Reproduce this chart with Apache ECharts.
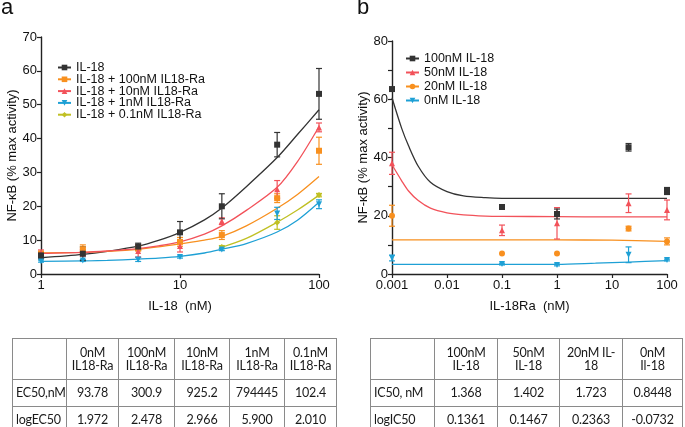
<!DOCTYPE html>
<html><head><meta charset="utf-8">
<script src="https://cdn.jsdelivr.net/npm/echarts@6/dist/echarts.min.js"></script>
<style>
html,body{margin:0;padding:0;background:#fff;width:685px;height:427px;overflow:hidden;}
#chart{position:absolute;left:0;top:0;width:685px;height:427px;}
table.t{position:absolute;border-collapse:collapse;font-family:Lato,"Open Sans",sans-serif;font-size:12.5px;color:#1a1a1a;table-layout:fixed;letter-spacing:-0.2px;}
table.t td{border:1px solid #8a8a8a;text-align:center;padding:0;line-height:13.5px;white-space:nowrap;overflow:visible;}
table.t td.first{text-align:left;padding-left:3px;}
</style>
</head><body>
<div id="chart"></div>
<div id="tables"></div>
<script>
// ---------- Panel a data ----------
const aX = [1, 2, 5, 10, 20, 50, 100];
const aIL18 = [5.5, 6.0, 8.1, 12.3, 20.0, 38.2, 53.2];
const aIL18Err = [1.0, 2.0, 1.0, 3.2, 3.7, 3.6, 7.5];
const a100 = [6.0, 7.3, 7.6, 9.5, 11.5, 22.4, 36.4];
const a100Err = [0.7, 1.3, 0.8, 1.3, 1.3, 1.3, 4.0];
const a10 = [6.3, 6.3, 6.8, 8.3, 15.6, 25.0, 43.3];
const a10Err = [0.8, 1.0, 1.8, 1.8, 1.0, 2.6, 1.3];
const a1 = [3.8, 4.0, 4.3, 5.0, 7.2, 17.9, 20.6];
const a1Err = [0.3, 0.3, 0.6, 0.3, 0.3, 1.8, 1.3];
const a01X = [20, 50, 100];
const a01 = [8.0, 15.2, 23.3];
const a01Err = [0.4, 2.0, 0.5];
// fitted curves
const aCurveX = [1, 2, 3, 5, 7, 10, 15, 20, 30, 50, 70, 100];
const aCurveIL18 = [4.8, 5.8, 6.7, 8.2, 9.9, 12.3, 16.0, 19.5, 25.8, 34.4, 41.2, 48.5];
const aCurve100 = [6.2, 6.4, 6.7, 7.3, 8.0, 8.9, 10.0, 11.1, 14.2, 19.4, 23.5, 28.8];
const aCurve10 = [6.1, 6.4, 6.8, 7.5, 8.3, 9.5, 11.8, 14.2, 18.8, 25.6, 33.2, 43.5];
const aCurve1 = [3.7, 3.85, 4.0, 4.4, 4.7, 5.2, 6.2, 7.3, 9.0, 12.4, 15.9, 21.2];
const aCurve01X = [20, 30, 50, 70, 100];
const aCurve01 = [7.9, 10.5, 15.3, 18.9, 23.3];
const aNames = ['IL-18', 'IL-18 + 100nM IL18-Ra', 'IL-18 + 10nM IL18-Ra', 'IL-18 + 1nM IL18-Ra', 'IL-18 + 0.1nM IL18-Ra'];
const aYTicks = [0, 10, 20, 30, 40, 50, 60, 70];

// ---------- Panel b data ----------
const bX = [0.001, 0.1, 1, 20, 100];
const b100 = [63.5, 23.0, 20.6, 43.5, 28.5];
const b100Err = [0.6, 0.6, 1.7, 1.3, 1.2];
const b50 = [38.0, 15.0, 17.4, 24.3, 22.0];
const b50Err = [3.8, 1.8, 5.4, 3.2, 3.4];
const b20 = [20.0, 7.0, 7.0, 15.6, 11.2];
const b20Err = [3.6, 0, 0, 0.8, 1.2];
const b0 = [5.5, 3.4, 3.1, 6.6, 4.8];
const b0Err = [1.0, 0.3, 0.3, 2.7, 0.3];
const bCurveX = [0.001, 0.0015, 0.002, 0.003, 0.005, 0.01, 0.02, 0.05, 0.1, 1, 10, 100];
const bCurve100 = [60.5, 50, 44, 37, 31.5, 28.3, 26.8, 26.2, 26.0, 26.0, 26.0, 26.0];
const bCurve50 = [37.5, 32, 28.5, 25.2, 22.6, 21.0, 20.3, 19.9, 19.8, 19.7, 19.6, 19.6];
const bCurve20X = [0.001, 1, 10, 100];
const bCurve20 = [11.7, 11.7, 11.6, 11.2];
const bCurve0X = [0.001, 0.1, 1, 5, 20, 100];
const bCurve0 = [3.3, 3.3, 3.3, 3.7, 4.1, 4.6];
const bNames = ['100nM IL-18', '50nM IL-18', '20nM IL-18', '0nM IL-18'];

// ---------- Tables ----------
const tA_head = ['', '0nM\nIL18-Ra', '100nM\nIL18-Ra', '10nM\nIL18-Ra', '1nM\nIL18-Ra', '0.1nM\nIL18-Ra'];
const tA_row1 = ['EC50,nM', '93.78', '300.9', '925.2', '794445', '102.4'];
const tA_row2 = ['logEC50', '1.972', '2.478', '2.966', '5.900', '2.010'];
const tB_head = ['', '100nM\nIL-18', '50nM\nIL-18', '20nM IL-\n18', '0nM\nIl-18'];
const tB_row1 = ['IC50, nM', '1.368', '1.402', '1.723', '0.8448'];
const tB_row2 = ['logIC50', '0.1361', '0.1467', '0.2363', '-0.0732'];

// colours
const C = {black:'#333333', orange:'#F8901F', red:'#F2525A', blue:'#1EA0D5', yellow:'#C0C024'};

function pairs(xs, ys){ return xs.map((x,i)=>[x, ys[i]]); }
function errs(xs, ys, es){ return xs.map((x,i)=>[x, ys[i]-es[i], ys[i]+es[i]]); }
function errRender(color){
  return function(params, api){
    const x = api.value(0);
    const lo = api.coord([x, api.value(1)]);
    const hi = api.coord([x, api.value(2)]);
    if (Math.abs(lo[1]-hi[1]) < 1) return null;
    const w = 3;
    const st = {stroke: color, lineWidth: 1.2};
    return {type:'group', children:[
      {type:'line', shape:{x1:lo[0], y1:lo[1], x2:hi[0], y2:hi[1]}, style:st},
      {type:'line', shape:{x1:lo[0]-w, y1:lo[1], x2:lo[0]+w, y2:lo[1]}, style:st},
      {type:'line', shape:{x1:hi[0]-w, y1:hi[1], x2:hi[0]+w, y2:hi[1]}, style:st}
    ]};
  };
}

const series = [];
function addSet(gi, name, color, symbol, rot, cx, cy){
  series.push({type:'line', name:name, xAxisIndex:gi, yAxisIndex:gi, data:pairs(cx, cy),
    smooth:0.3, showSymbol:false, symbol:symbol, symbolRotate:rot, symbolSize:6,
    lineStyle:{color:color, width:1.3}, itemStyle:{color:color}, z:3, animation:false, silent:true});
}
function addPts(gi, name, color, symbol, rot, px, py, pe){
  series.push({type:'custom', name:name+' err', xAxisIndex:gi, yAxisIndex:gi, data:errs(px, py, pe),
    renderItem:errRender(color), encode:{x:0, y:[1,2]}, clip:false, z:4, animation:false, silent:true});
  series.push({type:'scatter', name:name+' pts', xAxisIndex:gi, yAxisIndex:gi, data:pairs(px, py),
    symbol:symbol, symbolRotate:rot, symbolSize:6, itemStyle:{color:color, opacity:1}, clip:false, z:5, animation:false, silent:true});
}
// panel a
addSet(0, aNames[0], C.black, 'rect', 0, aCurveX, aCurveIL18);
addSet(0, aNames[1], C.orange, 'rect', 0, aCurveX, aCurve100);
addSet(0, aNames[2], C.red, 'triangle', 0, aCurveX, aCurve10);
addSet(0, aNames[3], C.blue, 'triangle', 180, aCurveX, aCurve1);
addSet(0, aNames[4], C.yellow, 'diamond', 0, aCurve01X, aCurve01);
addPts(0, aNames[4], C.yellow, 'diamond', 0, a01X, a01, a01Err);
addPts(0, aNames[3], C.blue, 'triangle', 180, aX, a1, a1Err);
addPts(0, aNames[1], C.orange, 'rect', 0, aX, a100, a100Err);
addPts(0, aNames[2], C.red, 'triangle', 0, aX, a10, a10Err);
addPts(0, aNames[0], C.black, 'rect', 0, aX, aIL18, aIL18Err);
// panel b
addSet(1, bNames[0], C.black, 'rect', 0, bCurveX, bCurve100);
addSet(1, bNames[1], C.red, 'triangle', 0, bCurveX, bCurve50);
addSet(1, bNames[2], C.orange, 'circle', 0, bCurve20X, bCurve20);
addSet(1, bNames[3], C.blue, 'triangle', 180, bCurve0X, bCurve0);
addPts(1, bNames[3], C.blue, 'triangle', 180, bX, b0, b0Err);
addPts(1, bNames[2], C.orange, 'circle', 0, bX, b20, b20Err);
addPts(1, bNames[1], C.red, 'triangle', 0, bX, b50, b50Err);
addPts(1, bNames[0], C.black, 'rect', 0, bX, b100, b100Err);

const FF = '"Liberation Sans", Arial, sans-serif';
const axisFont = {fontFamily:FF, fontSize:13, color:'#111'};
const axLine = {show:true, lineStyle:{color:'#222', width:1.4}};
const axTick = {show:true, inside:false, length:4, lineStyle:{color:'#222', width:1.2}};

const option = {
  animation:false,
  backgroundColor:'#fff',
  textStyle:{fontFamily:FF},
  title:[
    {text:'a', left:1, top:-3, padding:0, textStyle:{fontSize:22, fontWeight:'normal', color:'#111', fontFamily:FF}},
    {text:'b', left:357, top:-3, padding:0, textStyle:{fontSize:22, fontWeight:'normal', color:'#111', fontFamily:FF}}
  ],
  grid:[
    {left:41, top:37, width:278, height:237},
    {left:392, top:41, width:275, height:233}
  ],
  legend:[
    {data:aNames, orient:'vertical', left:57, top:61, padding:0, itemWidth:13, itemHeight:7, itemGap:-1.2, selectedMode:false,
     textStyle:Object.assign({}, axisFont, {fontSize:12.5, lineHeight:11})},
    {data:bNames, orient:'vertical', left:405, top:52, padding:0, itemWidth:13, itemHeight:7, itemGap:1, selectedMode:false,
     textStyle:Object.assign({}, axisFont, {fontSize:12.5, lineHeight:13})}
  ],
  xAxis:[
    {type:'log', logBase:10, gridIndex:0, min:1, max:100, splitLine:{show:false}, axisLine:axLine, axisTick:axTick,
     axisLabel:Object.assign({}, axisFont, {margin:5, formatter:function(v){return String(+(+v).toPrecision(3));}}),
     name:'IL-18  (nM)', nameLocation:'middle', nameGap:26, nameTextStyle:axisFont},
    {type:'log', logBase:10, gridIndex:1, min:0.001, max:100, splitLine:{show:false}, axisLine:axLine, axisTick:axTick,
     axisLabel:Object.assign({}, axisFont, {margin:5, formatter:function(v){return String(+(+v).toPrecision(3));}}),
     name:'IL-18Ra  (nM)', nameLocation:'middle', nameGap:26, nameTextStyle:axisFont}
  ],
  yAxis:[
    {type:'value', gridIndex:0, min:aYTicks[0], max:aYTicks[aYTicks.length-1], interval:10, splitLine:{show:false},
     axisLine:axLine, axisTick:axTick, axisLabel:Object.assign({}, axisFont, {margin:4}),
     name:'NF-\u03baB (% max activity)', nameLocation:'middle', nameGap:20, nameTextStyle:axisFont},
    {type:'value', gridIndex:1, min:0, max:80, interval:20, splitLine:{show:false},
     axisLine:axLine, axisTick:axTick, minorTick:{show:true, splitNumber:2, length:4, lineStyle:{color:'#222', width:1.2}},
     axisLabel:Object.assign({}, axisFont, {margin:4}),
     name:'NF-\u03baB (% max activity)', nameLocation:'middle', nameGap:18, nameTextStyle:axisFont}
  ],
  series:series
};

const chart = echarts.init(document.getElementById('chart'), null, {renderer:'canvas'});
chart.setOption(option);

// tables
function buildTable(left, top, widths, rows, heights){
  const t = document.createElement('table');
  t.className = 't';
  t.style.left = left + 'px';
  t.style.top = top + 'px';
  t.style.width = widths.reduce((a,b)=>a+b,0) + 'px';
  const cg = document.createElement('colgroup');
  widths.forEach(w=>{const c=document.createElement('col'); c.style.width=w+'px'; cg.appendChild(c);});
  t.appendChild(cg);
  rows.forEach((r, ri)=>{
    const tr = document.createElement('tr');
    tr.style.height = heights[ri] + 'px';
    r.forEach((cell, ci)=>{
      const td = document.createElement('td');
      if (ci === 0) td.className = 'first';
      cell.split('\n').forEach((line, li)=>{
        if (li) td.appendChild(document.createElement('br'));
        td.appendChild(document.createTextNode(line));
      });
      tr.appendChild(td);
    });
    t.appendChild(tr);
  });
  document.getElementById('tables').appendChild(t);
}
buildTable(12, 338, [54, 52, 56, 55, 55, 52], [tA_head, tA_row1, tA_row2], [41, 27, 27]);
buildTable(370, 338, [64, 63, 62, 63, 60], [tB_head, tB_row1, tB_row2], [41, 27, 27]);
</script>
</body></html>
